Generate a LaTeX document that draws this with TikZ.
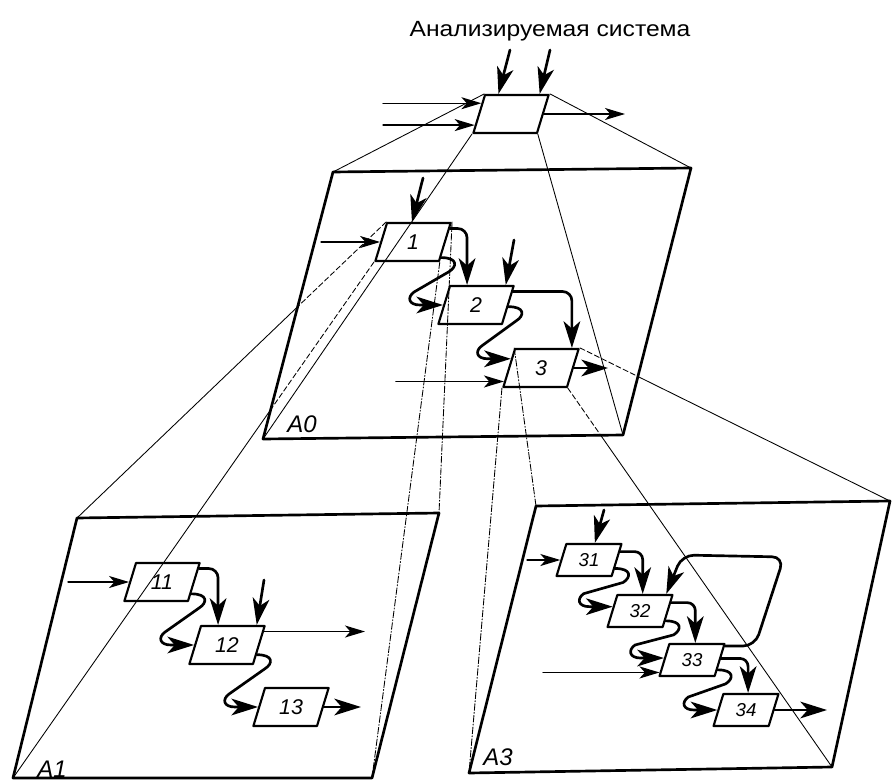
\documentclass[tikz,border=0pt]{standalone}
\usepackage{fontspec}
\setmainfont{Liberation Sans}
\newfontfamily\titlefont[FakeStretch=1.12]{Liberation Sans}
\usetikzlibrary{arrows.meta,shapes.geometric,calc}
\tikzset{
	blk/.style={draw, line width=1.6pt, trapezium, trapezium left angle=73, trapezium right angle=107,
		inner sep=0pt, minimum size=0pt, align=center, text width=39pt, text height=20pt, text depth=8.5pt,
		font=\itshape\fontsize{16}{16}\selectfont},
	sblk/.style={blk, text width=34pt, text height=17pt, text depth=7pt, font=\itshape\fontsize{14}{14}\selectfont},
	frm/.style={line width=2pt},
	proj/.style={line width=.65pt},
	hid/.style={proj, dash pattern=on 4pt off 2pt},
	hidd/.style={proj, dash pattern=on 5pt off 1.5pt on .8pt off 1.5pt},
	flow/.style={line width=2pt, -{Stealth[length=20pt,width=12.5pt,inset=5.5pt]}},
	feed/.style={line width=1pt, -{Stealth[length=15pt,width=9pt,inset=4pt]}},
	lbl/.style={anchor=base, font=\itshape\fontsize{18}{18}\selectfont},
	zig/.style={to path={(\tikztostart) .. controls ($(\tikztostart)+(17,0)$) and ($(\tikztostart)+(16,9)$) .. ($(\tikztostart)+(8,14)$)
			-- ($(\tikztotarget)+(-29,-13)$) .. controls ($(\tikztotarget)+(-36,-8)$) and ($(\tikztotarget)+(-35,0)$) .. ($(\tikztotarget)+(-23,0)$)
			-- (\tikztotarget) \tikztonodes}}
}
\begin{document}
\begin{tikzpicture}[x=.75pt, y=-.75pt, line join=round, line cap=round]
	\useasboundingbox (0,0) rectangle (892,781);
	\path
	(333,172) coordinate (a0-tl) (691,168) coordinate (a0-tr) (623,435) coordinate (a0-br) (263,439) coordinate (a0-bl)
	(77,518) coordinate (a1-tl) (439,513) coordinate (a1-tr) (372,778) coordinate (a1-br) (13,778) coordinate (a1-bl)
	(536,506) coordinate (a3-tl) (890,501) coordinate (a3-tr) (832,767) coordinate (a3-br) (469,773) coordinate (a3-bl)
	;
	\path
	(510,50) coordinate (sc1) (550,50) coordinate (sc2) (383,104) coordinate (si) (625,114) coordinate (so)
	(423,178) coordinate (c1) (321,242) coordinate (i1) (514,240) coordinate (c2) (396,381) coordinate (i3) (608,368) coordinate (o3)
	(68,582) coordinate (i11) (264,580) coordinate (c12) (365,632) coordinate (o12) (361,707) coordinate (o13)
	(604,510) coordinate (c31) (527,560) coordinate (i31) (543,673) coordinate (i33) (827,710) coordinate (o34)
	(755,647) coordinate (fb1) (784,557) coordinate (fb2) (682,555) coordinate (fb3)
	;
	\foreach \f in {a0,a1,a3}
	\draw[frm] (\f-tl) -- (\f-tr) -- (\f-br) -- (\f-bl) -- cycle;
	\node[lbl] (l0) at (302,432) {A0};
	\node[lbl] (l1) at (52,777) {A1};
	\node[lbl] (l3) at (498,765) {A3};
	\node[anchor=base, font=\titlefont\fontsize{16.5}{18}\selectfont] (ttl) at (550,37) {Анализируемая система};
	% blocks
	\node[blk] (sys) at (511,114) {};
	\node[blk] (b1) at (413,242) {1};
	\node[blk] (b2) at (476,305) {2};
	\node[blk] (b3) at (541,368) {3};
	\node[blk] (b11) at (162,582) {11};
	\node[blk] (b12) at (227,645) {12};
	\node[blk] (b13) at (291,707) {13};
	\node[sblk] (b31) at (589,560) {31};
	\node[sblk] (b32) at (640,611) {32};
	\node[sblk] (b33) at (692,660) {33};
	\node[sblk] (b34) at (746,710) {34};
	% projection lines
	\foreach \c/\f in {top left corner/tl, top right corner/tr, bottom right corner/br, bottom left corner/bl}
	\draw[proj] (sys.\c) -- (a0-\f);
	\begin{scope}
		\clip (a0-tl) -- (a0-tr) -- (a0-br) -- (a0-bl) -- cycle;
		\draw[hid] (b1.top left corner) -- (a1-tl) (b1.bottom left corner) -- (a1-bl)
		(b3.top right corner) -- (a3-tr) (b3.bottom right corner) -- (a3-br);
	\end{scope}
	\begin{scope}[even odd rule]
		\clip (0,0) rectangle (892,781) (a0-tl) -- (a0-tr) -- (a0-br) -- (a0-bl) -- cycle;
		\draw[proj] (b1.top left corner) -- (a1-tl) (b1.bottom left corner) -- (a1-bl)
		(b3.top right corner) -- (a3-tr) (b3.bottom right corner) -- (a3-br);
	\end{scope}
	\draw[hidd] (b1.top right corner) -- (a1-tr) (b1.bottom right corner) -- (a1-br)
	(b3.top left corner) -- (a3-tl) (b3.bottom left corner) -- (a3-bl);
	% system
	\draw[flow] (sc1) -- (sys.122);
	\draw[flow] (sc2) -- (sys.35);
	\draw[feed] (sys.160 -| si) -- (sys.160);
	\draw[feed] (sys.197 -| si) -- (sys.197);
	\draw[feed] (sys.east) -- (sys.east -| so);
	% A0
	\draw[flow] (c1) -- (b1.93);
	\draw[feed] (b1.west -| i1) -- (b1.west);
	\draw[flow, rounded corners=7pt] (b1.20) -| (b2.114);
	\draw[flow] (b1.331) to[zig] (b2.west);
	\draw[flow] (c2) -- (b2.34);
	\draw[flow, rounded corners=7pt] (b2.20) -| (b3.33);
	\draw[flow] (b2.357) to[zig] (b3.163);
	\draw[feed, line width=1.4pt] (b3.200 -| i3) -- (b3.200);
	\draw[flow] (b3.east) -- (b3.east -| o3);
	% A1
	\draw[feed] (b11.west -| i11) -- (b11.west);
	\draw[flow, rounded corners=7pt] (b11.20) -| (b12.114);
	\draw[flow] (b11.338) to[zig] (b12.west);
	\draw[flow] (c12) -- (b12.34);
	\draw[feed] (b12.20) -- (b12.20 -| o12);
	\draw[flow] (b12.342) to[zig] (b13.west);
	\draw[flow] (b13.east) -- (b13.east -| o13);
	% A3
	\draw[flow] (c31) -- (b31.71);
	\draw[feed] (b31.west -| i31) -- (b31.west);
	\draw[flow, rounded corners=6pt] (b31.15) -| (b32.81);
	\draw[flow] (b31.342) to[zig] (b32.171);
	\draw[flow, rounded corners=6pt] (b32.15) -| (b33.79);
	\draw[flow] (b32.339) to[zig] (b33.176);
	\draw[feed] (b33.201 -| i33) -- (b33.201);
	\draw[flow, rounded corners=6pt] (b33.3) -| (b34.83);
	\draw[flow] (b33.339) to[zig] (b34.west);
	\draw[flow, rounded corners=9pt] (b33.23) -- (b33.23 -| fb1) -- (fb2) -- (fb3) -- (b32.33);
	\draw[flow] (b34.east) -- (b34.east -| o34);
\end{tikzpicture}
\end{document}
